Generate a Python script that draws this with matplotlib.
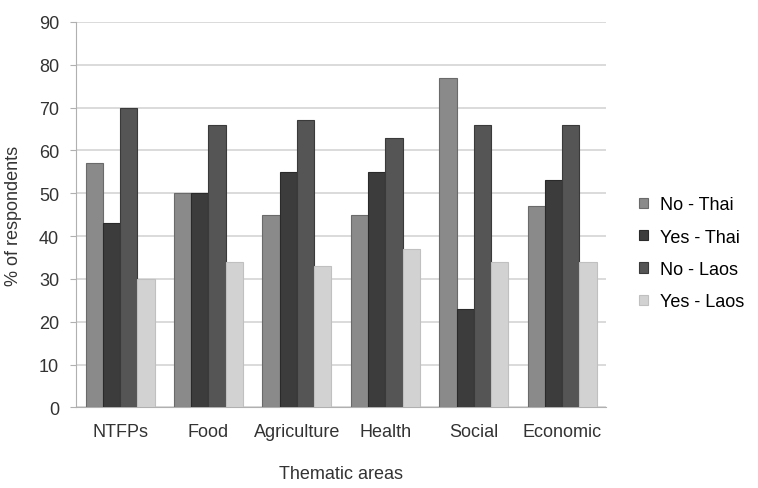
import matplotlib
matplotlib.use("Agg")
import matplotlib.pyplot as plt
import numpy as np

plt.rcParams['font.family'] = ['Liberation Sans', 'DejaVu Sans']

categories = ["NTFPs", "Food", "Agriculture", "Health", "Social", "Economic"]
series_names = ["No - Thai", "Yes - Thai", "No - Laos", "Yes - Laos"]
no_thai = [57, 50, 45, 45, 77, 47]
yes_thai = [43, 50, 55, 55, 23, 53]
no_laos = [70, 66, 67, 63, 66, 66]
yes_laos = [30, 34, 33, 37, 34, 34]
y_ticks = [0, 10, 20, 30, 40, 50, 60, 70, 80, 90]

series = [no_thai, yes_thai, no_laos, yes_laos]
colors = ["#8a8a8a", "#3c3c3c", "#555555", "#d2d2d2"]
edges = ["#6a6a6a", "#2a2a2a", "#3a3a3a", "#c0c0c0"]

fig = plt.figure(figsize=(7.58, 4.89), dpi=100)
ax = fig.add_axes([0.10, 0.165, 0.70, 0.788])

x = np.arange(len(categories))
width = 0.195
offsets = (np.arange(4) - 1.5) * width
for vals, off, c, ec, name in zip(series, offsets, colors, edges, series_names):
    ax.bar(x + off, vals, width, color=c, edgecolor=ec, linewidth=0.8,
           label=name, zorder=3)

ax.set_xlim(-0.5, 5.5)
ax.set_ylim(0, 90)
ax.set_yticks(y_ticks)
ax.set_xticks(x)
ax.set_xticklabels(categories)
ax.tick_params(axis='both', labelsize=13, colors="#333333")
ax.tick_params(axis='x', length=0, pad=11)
ax.tick_params(axis='y', length=4, color="#b0b0b0", pad=8)
ax.yaxis.grid(True, color="#d4d4d4", linewidth=1.2, zorder=0)
for s in ("top", "right"):
    ax.spines[s].set_visible(False)
for s in ("left", "bottom"):
    ax.spines[s].set_color("#b0b0b0")

ax.set_ylabel("% of respondents", fontsize=13, color="#333333", labelpad=12)
ax.set_xlabel("Thematic areas", fontsize=13, color="#333333", labelpad=18)

ax.legend(loc="center left", bbox_to_anchor=(1.03, 0.40), frameon=False,
          fontsize=13, handlelength=0.5, handleheight=0.5,
          handletextpad=0.7, labelspacing=0.85)

fig.savefig("out.png", dpi=100)
